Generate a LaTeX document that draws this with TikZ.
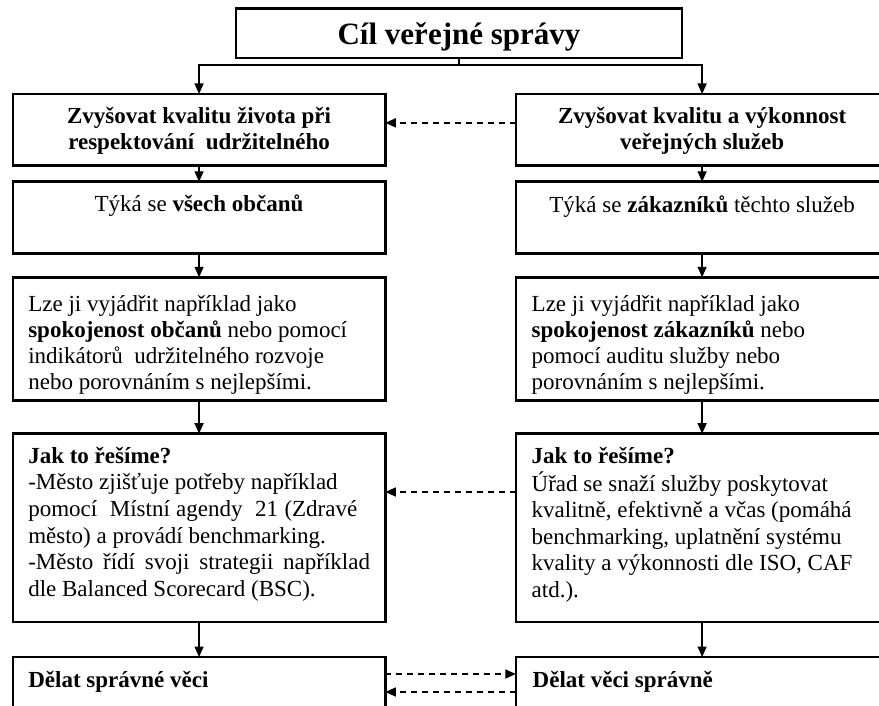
\documentclass[tikz,border=0pt]{standalone}
\usepackage{fontspec}
\setmainfont{Liberation Serif}
\usetikzlibrary{arrows.meta,calc}
\begin{document}
\begin{tikzpicture}[x=1pt,y=-1pt,
  box/.style={draw, line width=2.6pt, minimum width=372.5pt, inner sep=0pt, outer sep=0pt},
  topbox/.style={draw, line width=2.6pt, minimum width=445.7pt, minimum height=49.3pt, inner sep=0pt, outer sep=0pt},
  conn/.style={line width=1.4pt, -{Triangle[length=10.5pt,width=9pt]}},
  dconn/.style={line width=1.6pt, dash pattern=on 6pt off 5pt, -{Triangle[length=10.5pt,width=9pt]}},
  txt/.style={inner sep=0pt, outer sep=0pt, font=\fontsize{23}{26}\selectfont},
  txtb/.style={txt, font=\fontsize{23}{26}\selectfont\bfseries},
  txtw/.style={inner sep=0pt, outer sep=0pt, font=\fontsize{23}{26.6}\selectfont},
]
\useasboundingbox (0,0) rectangle (879,706);
\clip (0,0) rectangle (879,706);

% boxes
\node[topbox] (T) at (459,33.35) {};
\node[box, minimum height=71.7pt] (L1) at (199.05,129.85) {};
\node[box, minimum height=71.7pt] (R1) at (702.1,129.85) {};
\node[box, minimum height=71.7pt] (L2) at (199.05,217.65) {};
\node[box, minimum height=71.7pt] (R2) at (702.1,217.65) {};
\node[box, minimum height=123.4pt] (L3) at (199.05,339) {};
\node[box, minimum height=123.4pt] (R3) at (702.1,339) {};
\node[box, minimum height=188.3pt] (L4) at (199.05,527.85) {};
\node[box, minimum height=188.3pt] (R4) at (702.1,527.85) {};
\node[box, minimum height=90pt] (L5) at (199.05,702) {};
\node[box, minimum height=90pt] (R5) at (702.1,702) {};

% texts
\node[inner sep=0pt, font=\fontsize{31}{36}\selectfont\bfseries, anchor=base] (tT) at (459,44.3) {Cíl veřejné správy};

\node[txtb, anchor=base] (tL1) at (199.05,123.3) {\begin{tabular}[t]{@{}c@{}}Zvyšovat kvalitu života při\\respektování\ \ udržitelného\end{tabular}};
\node[txtb, anchor=base] (tR1) at (702.1,123.3) {\begin{tabular}[t]{@{}c@{}}Zvyšovat kvalitu a výkonnost\\veřejných služeb\end{tabular}};

\node[txt, anchor=base] (tL2) at (199.05,211.7) {Týká se \textbf{všech občanů}};
\node[txt, anchor=base] (tR2) at (702.1,212) {Týká se \textbf{zákazníků} těchto služeb};

\node[txt, anchor=base west] (tL3) at (28.3,311) {\begin{tabular}[t]{@{}l@{}}Lze ji vyjádřit například jako\\\textbf{spokojenost občanů} nebo pomocí\\indikátorů\ \ udržitelného rozvoje\\nebo porovnáním s nejlepšími.\end{tabular}};
\node[txt, anchor=base west] (tR3) at (531.7,311) {\begin{tabular}[t]{@{}l@{}}Lze ji vyjádřit například jako\\\textbf{spokojenost zákazníků} nebo\\pomocí auditu služby nebo\\porovnáním s nejlepšími.\end{tabular}};

\node[txtw, anchor=base west] (tL4) at (28.3,463.3) {\begin{tabular}[t]{@{}l@{}}\textbf{Jak to řešíme?}\\-Město zjišťuje potřeby například\\\makebox[329pt][s]{pomocí\ \ Místní agendy\ \ 21 (Zdravé}\\město) a provádí benchmarking.\\\makebox[341.7pt][s]{-Město řídí svoji strategii například}\\dle Balanced Scorecard (BSC).\end{tabular}};
\node[txtw, anchor=base west] (tR4) at (531.7,463.3) {\begin{tabular}[t]{@{}l@{}}\textbf{Jak to řešíme?}\\Úřad se snaží služby poskytovat\\kvalitně, efektivně a včas (pomáhá\\benchmarking, uplatnění systému\\kvality a výkonnosti dle ISO, CAF\\atd.).\end{tabular}};

\node[txtb, anchor=base west] (tL5) at (28.3,687.3) {Dělat správné věci};
\node[txtb, anchor=base west] (tR5) at (532.7,687) {Dělat věci správně};

% connectors
\draw[conn] (T.south) -- ++(0,7) -| (L1.north);
\draw[conn] (T.south) -- ++(0,7) -| (R1.north);
\draw[conn] (L1.south) -- (L2.north);
\draw[conn] (R1.south) -- (R2.north);
\draw[conn] (L2.south) -- (L3.north);
\draw[conn] (R2.south) -- (R3.north);
\draw[conn] (L3.south) -- (L4.north);
\draw[conn] (R3.south) -- (R4.north);
\draw[conn] (L4.south) -- (L5.north);
\draw[conn] (R4.south) -- (R5.north);

\draw[dconn] ([yshift=7pt]R1.west) -- ([yshift=7pt]L1.east);
\draw[dconn] ([yshift=35.85pt]R4.west) -- ([yshift=35.85pt]L4.east);
\draw[dconn] ([yshift=-17pt]L5.north east) -- ([yshift=-17pt]R5.north west);
\draw[dconn] ([yshift=-35pt]R5.north west) -- ([yshift=-35pt]L5.north east);
\end{tikzpicture}
\end{document}
